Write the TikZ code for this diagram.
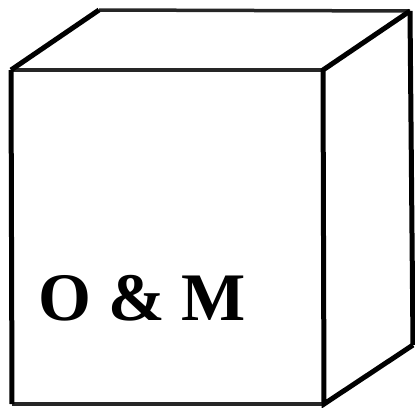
\documentclass[tikz,border=0pt]{standalone}
\usepackage{fontspec}
\setmainfont{Liberation Serif}
\usetikzlibrary{positioning}
\tikzset{
  edge/.style={draw=black, line width=5pt, line join=miter},
  rim/.style={draw=black!85, line width=3.5pt},
  boxtext/.style={font=\bfseries\fontsize{68}{68}\selectfont, inner sep=0pt},
}
\begin{document}
\begin{tikzpicture}[x=1pt, y=-1pt]
    \useasboundingbox (0,0) rectangle (415,407);
    % corners of the box
    \coordinate (ftl) at (11,70);
    \coordinate (ftr) at (323,70);
    \coordinate (fbr) at (324,404);
    \coordinate (fbl) at (12,404);
    \coordinate (btl) at (99,10);
    \coordinate (btr) at (410,11);
    \coordinate (bbr) at (413,345);
    \draw[rim] (btl) -- (btr);
    \draw[rim] (ftl) -- (ftr);
    \draw[rim] (fbl) -- (fbr);
    \draw[edge] (ftl) -- (btl);
    \draw[edge] (btr) -- (ftr) -- (fbr) -- (bbr);
    \draw[edge] (btr) -- (bbr);
    \draw[edge] (ftl) -- (fbl);
    \node[boxtext] (name) at (142,298) {O \& M};
\end{tikzpicture}
\end{document}
